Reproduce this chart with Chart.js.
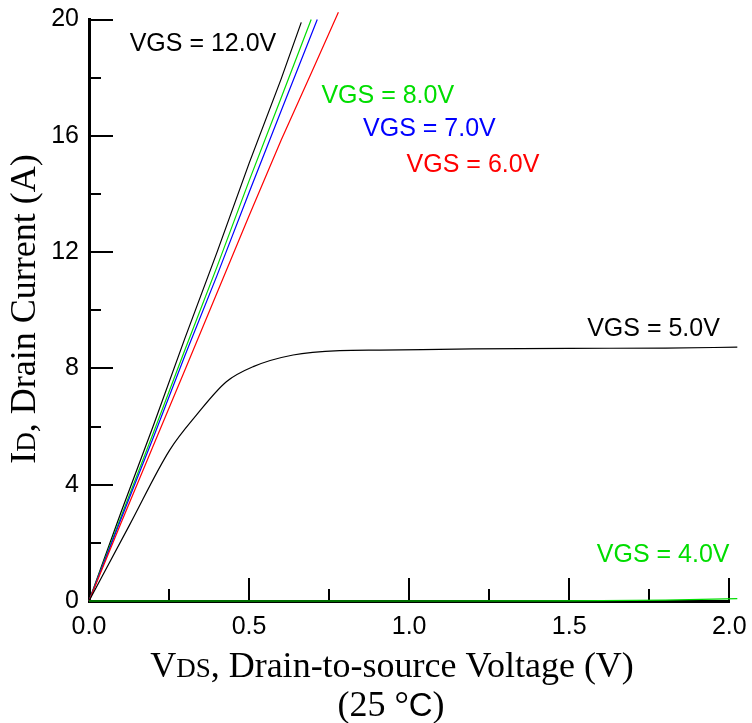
<!DOCTYPE html>
<html>
<head>
<meta charset="utf-8">
<script src="https://cdn.jsdelivr.net/npm/chart.js@4.4.1/dist/chart.umd.min.js"></script>
<style>
  body { margin: 0; background: #fff; }
  #wrap { width: 752px; height: 723px; }
</style>
</head>
<body>
<div id="wrap"><canvas id="ivChart" width="752" height="723"></canvas></div>
<script>
// Output characteristics
const gateLabels = ['VGS = 12.0V', 'VGS = 8.0V', 'VGS = 7.0V', 'VGS = 6.0V', 'VGS = 5.0V', 'VGS = 4.0V'];

const vds12 = [0, 0.1, 0.2, 0.3, 0.4, 0.5, 0.6, 0.663];
const id12 = [0, 3.05, 6.0, 9.05, 12.0, 15.05, 17.95, 19.9];

const vds8 = [0, 0.1, 0.2, 0.3, 0.4, 0.5, 0.6, 0.694];
const id8 = [0, 2.9, 5.75, 8.65, 11.5, 14.45, 17.3, 20.0];

const vds7 = [0, 0.1, 0.2, 0.3, 0.4, 0.5, 0.6, 0.713];
const id7 = [0, 2.82, 5.6, 8.45, 11.2, 14.05, 16.85, 20.0];

const vds6 = [0, 0.1, 0.2, 0.3, 0.4, 0.5, 0.6, 0.7, 0.779];
const id6 = [0, 2.68, 5.32, 7.95, 10.6, 13.25, 15.85, 18.3, 20.25];

const vds5 = [0, 0.126, 0.252, 0.336, 0.429, 0.513, 0.6375, 0.783, 0.908, 1.2, 1.5, 1.8, 2.025];
const id5 = [0, 2.6, 5.19, 6.4, 7.54, 8.06, 8.46, 8.61, 8.63, 8.67, 8.69, 8.7, 8.73];

const vds4 = [0, 0.5, 1.0, 1.5, 1.8, 2.025];
const id4 = [0, 0, 0, 0.005, 0.03, 0.08];

const xMajorTicks = [0.5, 1.0, 1.5, 2.0];
const xMinorTicks = [0.25, 0.75, 1.25, 1.75];
const yMajorTicks = [4, 8, 12, 16, 20];
const yMinorTicks = [2, 6, 10, 14, 18];

const GREEN = '#00dd00';

function toPoints(xs, ys) {
    return xs.map((x, i) => ({ x: x, y: ys[i] }));
}

function tickLine(ctx, x1, y1, x2, y2) {
    ctx.beginPath();
    ctx.moveTo(x1, y1);
    ctx.lineTo(x2, y2);
    ctx.stroke();
}

// ticks point into the plot, long for major and short for minor
const inwardTicks = {
    id: 'inwardTicks',
    beforeDatasetsDraw(chart) {
        const ctx = chart.ctx;
        const xs = chart.scales.x, ys = chart.scales.y;
        const left = chart.chartArea.left, bottom = chart.chartArea.bottom;
        ctx.save();
        ctx.strokeStyle = '#000';
        ctx.lineWidth = 2;
        xMajorTicks.forEach(v => {
            const px = Math.round(xs.getPixelForValue(v));
            tickLine(ctx, px, bottom, px, bottom - 23);
        });
        xMinorTicks.forEach(v => {
            const px = Math.round(xs.getPixelForValue(v));
            tickLine(ctx, px, bottom, px, bottom - 12);
        });
        yMajorTicks.forEach(v => {
            const py = Math.round(ys.getPixelForValue(v));
            tickLine(ctx, left, py, left + 24, py);
        });
        yMinorTicks.forEach(v => {
            const py = Math.round(ys.getPixelForValue(v));
            tickLine(ctx, left, py, left + 12, py);
        });
        ctx.restore();
    }
};

// draw a line of text made of pieces in different fonts
function drawPieces(ctx, pieces, cx, y) {
    let total = 0;
    pieces.forEach(p => { ctx.font = p.font; total += ctx.measureText(p.text).width; });
    let x = cx - total / 2;
    pieces.forEach(p => {
        ctx.font = p.font;
        ctx.fillText(p.text, x, y);
        x += ctx.measureText(p.text).width;
    });
}

const serif = '"Liberation Serif", "Times New Roman", serif';
const sans = '"Liberation Sans", Arial, sans-serif';

const titlesAndLabels = {
    id: 'titlesAndLabels',
    afterDraw(chart) {
        const ctx = chart.ctx;
        const xs = chart.scales.x, ys = chart.scales.y;
        ctx.save();
        ctx.fillStyle = '#000';
        ctx.textAlign = 'left';
        ctx.textBaseline = 'alphabetic';

        // x axis title, two lines
        drawPieces(ctx, [
            { text: 'V', font: '36px ' + serif },
            { text: 'DS', font: '27px ' + serif },
            { text: ', Drain-to-source Voltage (V)', font: '36px ' + serif }
        ], 392, 677);
        drawPieces(ctx, [
            { text: '(25 °', font: '36px ' + serif },
            { text: 'C', font: '33px ' + sans },
            { text: ')', font: '36px ' + serif }
        ], 391, 716);

        // y axis title, rotated
        ctx.save();
        ctx.translate(35, 309);
        ctx.rotate(-Math.PI / 2);
        drawPieces(ctx, [
            { text: 'I', font: '36px ' + serif },
            { text: 'D', font: '27px ' + serif },
            { text: ', Drain Current (A)', font: '36px ' + serif }
        ], 0, 0);
        ctx.restore();

        // curve labels, placed in data units
        const spots = [
            { x: 0.127, y: 18.92, color: '#000' },
            { x: 0.726, y: 17.12, color: GREEN },
            { x: 0.856, y: 16.0, color: '#0000ff' },
            { x: 0.992, y: 14.77, color: '#ff0000' },
            { x: 1.556, y: 9.13, color: '#000' },
            { x: 1.586, y: 1.35, color: GREEN }
        ];
        ctx.font = '25px ' + sans;
        spots.forEach((s, i) => {
            ctx.fillStyle = s.color;
            ctx.fillText(gateLabels[i], xs.getPixelForValue(s.x), ys.getPixelForValue(s.y));
        });
        ctx.restore();
    }
};

function lineSet(label, xs, ys, color, order, smooth) {
    return {
        label: label,
        data: toPoints(xs, ys),
        borderColor: color,
        backgroundColor: color,
        borderWidth: 1.2,
        pointRadius: 0,
        showLine: true,
        fill: false,
        clip: false,
        order: order,
        cubicInterpolationMode: smooth ? 'monotone' : 'default',
        tension: 0
    };
}

document.addEventListener('DOMContentLoaded', () => {
    const ctx = document.getElementById('ivChart').getContext('2d');
    new Chart(ctx, {
        type: 'scatter',
        data: {
            datasets: [
                lineSet(gateLabels[5], vds4, id4, GREEN, 0, false),
                lineSet(gateLabels[4], vds5, id5, '#000', 1, true),
                lineSet(gateLabels[3], vds6, id6, '#ff0000', 2, false),
                lineSet(gateLabels[2], vds7, id7, '#0000ff', 3, false),
                lineSet(gateLabels[1], vds8, id8, GREEN, 4, false),
                lineSet(gateLabels[0], vds12, id12, '#000', 5, false)
            ]
        },
        options: {
            responsive: false,
            animation: false,
            devicePixelRatio: 1,
            layout: { padding: { top: 19.5, right: 22.7, left: 0, bottom: 0 } },
            plugins: {
                legend: { display: false },
                tooltip: { enabled: false }
            },
            scales: {
                x: {
                    type: 'linear',
                    min: 0,
                    max: 2,
                    grid: { display: false, drawTicks: false },
                    border: { display: true, color: '#000', width: 3 },
                    ticks: {
                        stepSize: 0.5,
                        padding: 4,
                        color: '#000',
                        font: { family: 'Liberation Sans', size: 25, lineHeight: 1.8 },
                        callback: v => v.toFixed(1)
                    },
                    afterFit: scale => { scale.height = 122; }
                },
                y: {
                    type: 'linear',
                    min: 0,
                    max: 20,
                    grid: { display: false, drawTicks: false },
                    border: { display: true, color: '#000', width: 3 },
                    ticks: {
                        stepSize: 4,
                        padding: 10,
                        color: '#000',
                        font: { family: 'Liberation Sans', size: 25, lineHeight: 0.7 }
                    },
                    afterFit: scale => { scale.width = 89; }
                }
            }
        },
        plugins: [inwardTicks, titlesAndLabels]
    });
});
</script>
</body>
</html>
